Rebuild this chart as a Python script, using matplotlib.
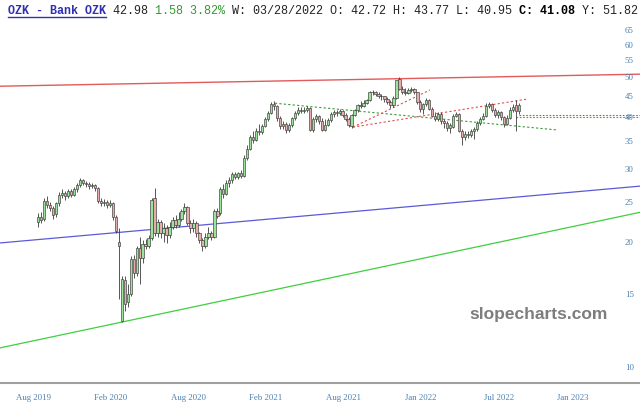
# -*- coding:utf-8 -*-

import matplotlib
matplotlib.use('Agg')
import matplotlib.pyplot as plt
from matplotlib.lines import Line2D
from matplotlib.ticker import FixedLocator, NullLocator, FixedFormatter

# weekly OHLC, Bank OZK, one row of 10 weeks per line
opens = [22.3, 23.0, 22.8, 25.2, 24.6, 24.2, 23.4, 24.8, 26.0, 26.3,
         25.8, 26.5, 26.0, 26.8, 27.5, 28.2, 27.8, 27.6, 27.3, 27.5,
         27.0, 25.2, 24.8, 25.0, 24.6, 24.9, 23.0, 20.0, 12.9, 16.2,
         14.3, 15.0, 18.2, 16.8, 19.3, 18.3, 19.8, 19.6, 20.4, 25.5,
         21.0, 22.3, 21.0, 21.6, 20.8, 21.8, 22.6, 22.0, 22.8, 23.8,
         24.3, 22.2, 21.6, 22.2, 21.0, 20.2, 19.6, 20.6, 21.0, 20.6,
         23.8, 23.5, 26.8, 26.2, 27.8, 28.2, 29.2, 28.8, 29.3, 28.9,
         32.0, 33.6, 35.8, 35.2, 37.2, 36.8, 38.2, 39.6, 41.0, 43.2,
         42.6, 39.8, 38.2, 38.6, 37.4, 38.4, 39.8, 41.0, 41.8, 41.4,
         41.7, 42.2, 37.3, 39.6, 40.4, 39.2, 37.4, 38.4, 39.4, 40.8,
         41.3, 41.0, 41.5, 40.6, 39.6, 38.2, 40.6, 41.6, 42.8, 42.6,
         43.4, 44.0, 46.0, 46.1, 45.6, 45.2, 45.0, 44.3, 43.5, 42.8,
         44.6, 49.6, 46.8, 46.2, 45.8, 46.6, 46.8, 46.0, 43.6, 42.0,
         43.0, 44.2, 42.0, 40.4, 39.6, 40.8, 39.2, 38.8, 37.8, 38.0,
         40.4, 40.8, 37.2, 35.8, 36.4, 36.2, 37.0, 37.6, 38.8, 39.6,
         40.4, 42.6, 43.2, 41.8, 40.6, 41.2, 40.2, 38.6, 39.8, 41.8,
         42.9, 41.4]
highs = [23.5, 23.6, 25.6, 25.8, 25.0, 24.5, 25.0, 26.4, 26.8, 26.6,
         26.9, 26.8, 27.2, 27.8, 28.5, 28.4, 28.1, 27.9, 27.8, 27.7,
         27.2, 25.6, 25.4, 25.3, 25.3, 25.0, 23.2, 21.6, 16.6, 16.6,
         15.8, 18.5, 18.6, 19.6, 20.6, 20.2, 20.3, 20.8, 25.6, 27.0,
         22.8, 22.6, 22.2, 22.0, 22.3, 23.0, 23.2, 23.6, 24.0, 24.8,
         24.4, 22.6, 22.8, 22.5, 21.2, 20.5, 21.0, 21.8, 21.3, 24.0,
         24.2, 27.2, 27.6, 28.2, 28.8, 29.6, 29.6, 29.6, 29.8, 32.5,
         34.4, 36.2, 37.2, 37.8, 38.5, 38.6, 40.2, 41.4, 43.5, 43.8,
         42.8, 40.3, 39.2, 38.9, 38.8, 40.2, 41.4, 42.3, 42.4, 42.5,
         42.6, 42.3, 40.0, 40.8, 40.6, 39.8, 39.6, 39.8, 41.2, 41.8,
         41.8, 41.9, 41.7, 41.0, 40.0, 40.8, 42.0, 43.2, 43.8, 44.2,
         44.4, 46.4, 46.6, 46.4, 46.0, 45.6, 45.2, 44.8, 44.1, 45.0,
         49.4, 50.2, 47.6, 47.2, 47.0, 47.3, 47.2, 46.2, 44.0, 43.4,
         44.6, 44.4, 42.4, 41.2, 41.2, 41.3, 39.6, 39.2, 38.8, 40.8,
         41.3, 41.0, 37.6, 37.0, 37.2, 37.6, 38.0, 39.3, 40.0, 41.0,
         43.4, 43.6, 43.4, 42.2, 41.6, 41.4, 40.4, 40.6, 42.3, 43.0,
         44.0, 43.4]
lows = [21.8, 22.2, 22.5, 24.2, 23.8, 22.8, 23.0, 24.5, 25.6, 25.3,
        25.5, 25.7, 25.8, 26.4, 27.2, 27.4, 27.2, 26.9, 27.0, 26.6,
        24.9, 24.4, 24.5, 24.2, 24.3, 22.6, 21.0, 14.6, 12.8, 13.6,
        13.9, 14.8, 16.4, 16.6, 15.8, 17.8, 19.2, 19.3, 20.2, 20.7,
        20.6, 20.4, 20.0, 19.9, 20.5, 21.5, 21.6, 21.8, 22.5, 23.4,
        22.0, 21.0, 21.2, 20.6, 19.9, 19.0, 19.3, 20.3, 20.2, 20.4,
        22.9, 23.3, 25.6, 26.0, 27.2, 27.8, 28.4, 28.4, 28.6, 28.7,
        31.5, 33.3, 34.8, 35.0, 36.3, 36.5, 38.0, 39.2, 40.8, 41.8,
        39.2, 37.5, 37.6, 36.6, 36.9, 38.0, 39.5, 40.6, 41.0, 40.9,
        41.2, 37.0, 36.9, 39.0, 38.6, 37.0, 37.0, 38.1, 39.0, 40.2,
        40.4, 40.6, 40.0, 39.2, 38.0, 37.8, 40.3, 41.3, 42.2, 42.4,
        43.0, 43.8, 45.4, 45.1, 44.6, 44.2, 43.6, 43.0, 42.2, 42.4,
        44.4, 46.5, 45.6, 45.3, 45.5, 46.0, 45.6, 43.2, 41.2, 40.8,
        42.6, 41.6, 40.0, 39.2, 39.3, 38.6, 37.8, 37.2, 36.6, 37.8,
        40.0, 36.8, 34.4, 35.2, 35.6, 35.8, 35.4, 37.2, 38.4, 39.4,
        40.2, 42.2, 41.2, 40.0, 39.8, 39.4, 38.0, 38.4, 39.6, 41.2,
        37.2, 40.8]
closes = [23.0, 22.6, 25.2, 24.6, 24.2, 23.2, 24.8, 26.0, 26.3, 25.8,
          26.5, 26.0, 26.8, 27.5, 28.2, 27.8, 27.6, 27.3, 27.5, 27.0,
          25.2, 24.8, 25.0, 24.6, 24.9, 23.0, 21.3, 19.6, 16.3, 14.2,
          15.0, 18.2, 16.8, 19.3, 18.3, 19.8, 19.6, 20.4, 25.3, 21.0,
          22.3, 21.0, 21.6, 20.8, 21.8, 22.6, 22.0, 22.8, 23.8, 24.3,
          22.2, 21.6, 22.2, 21.0, 20.2, 19.6, 20.6, 21.0, 20.6, 23.8,
          23.1, 26.8, 26.2, 27.8, 28.2, 29.2, 28.8, 29.3, 28.9, 32.0,
          33.6, 35.8, 35.2, 37.2, 36.8, 38.2, 39.6, 41.0, 43.2, 42.6,
          39.8, 38.2, 38.6, 37.4, 38.4, 39.8, 41.0, 41.8, 41.4, 41.7,
          42.2, 37.3, 39.6, 40.4, 39.2, 37.4, 38.4, 39.4, 40.8, 41.3,
          41.0, 41.5, 40.6, 39.6, 38.4, 40.6, 41.6, 42.8, 42.6, 43.4,
          44.0, 46.0, 46.1, 45.6, 45.2, 45.0, 44.3, 43.5, 42.8, 44.6,
          49.2, 46.8, 46.2, 45.8, 46.6, 46.8, 46.0, 43.6, 42.0, 43.0,
          44.2, 42.0, 40.4, 39.6, 40.8, 39.2, 38.8, 37.8, 38.4, 40.4,
          40.8, 37.2, 35.8, 36.4, 36.2, 37.0, 37.6, 38.8, 39.6, 40.4,
          42.6, 43.2, 41.8, 40.6, 41.2, 40.2, 38.6, 39.8, 41.8, 42.4,
          41.4, 42.98]

# x axis labels (week index where they sit)
tick_weeks = [-1.5, 24.3, 50.5, 76.1, 102.2, 128.2, 154.3, 179.1]
tick_labels = ['Aug 2019', 'Feb 2020', 'Aug 2020', 'Feb 2021',
               'Aug 2021', 'Jan 2022', 'Jul 2022', 'Jan 2023']
price_ticks = [10, 15, 20, 25, 30, 35, 40, 45, 50, 55, 60, 65]

# drawn trend lines: (week, price) end points
red_line = [(-12.8, 47.6), (201.6, 50.9)]
blue_line = [(-12.8, 19.9), (201.6, 27.3)]
green_line = [(-12.8, 11.1), (201.6, 23.6)]
green_dotted = [(79.3, 43.3), (174.1, 37.3)]
red_dotted_1 = [(105.4, 37.9), (131.2, 46.6)]
red_dotted_2 = [(105.4, 37.9), (163.7, 44.3)]
green_level = [(161.0, 40.5), (201.6, 40.5)]
red_level = [(160.0, 40.0), (201.6, 40.0)]

# title pieces
title_parts = [('OZK - Bank OZK', '#3030b0', 'bold'),
               (' 42.98', '#222222', 'normal'),
               (' 1.58 3.82%', '#2f9a2f', 'normal'),
               (' W: 03/28/2022 O: 42.72 H: 43.77 L: 40.95', '#222222', 'normal'),
               (' C: 41.08', 'black', 'bold'),
               (' Y: 51.82', '#222222', 'normal')]

W, H = 640, 413
fig = plt.figure(figsize=(W / 100, H / 100), dpi=100)
ax = fig.add_axes([0, 30 / H, 1, 363 / H])

weeks = list(range(len(closes)))
up = [c >= o for o, c in zip(opens, closes)]
body_lo = [min(o, c) for o, c in zip(opens, closes)]
body_h = [max(abs(c - o), 0.08) for o, c in zip(opens, closes)]
colors = ['#9be39b' if u else '#e6adad' for u in up]

ax.vlines(weeks, lows, highs, color='#3a3a3a', linewidth=0.6, zorder=2)
ax.bar(weeks, body_h, bottom=body_lo, width=0.8, color=colors,
       edgecolor='#3a3a3a', linewidth=0.45, zorder=3)


def seg(pts, **kw):
    ax.plot([p[0] for p in pts], [p[1] for p in pts], **kw)


seg(red_line, color='#e35a5a', lw=1.0, zorder=1)
seg(blue_line, color='#5a5ad8', lw=0.9, zorder=1)
seg(green_line, color='#3fcf3f', lw=0.9, zorder=1)
seg(green_dotted, color='#3a9a3a', lw=0.8, ls=(0, (2, 2)), zorder=1)
seg(red_dotted_1, color='#e05050', lw=0.8, ls=(0, (2, 2)), zorder=1)
seg(red_dotted_2, color='#e05050', lw=0.8, ls=(0, (2, 2)), zorder=1)
seg(green_level, color='#3a9a3a', lw=0.8, ls=(0, (1.5, 1.5)), zorder=1)
seg(red_level, color='#e05050', lw=0.8, ls=(0, (1.5, 1.5)), zorder=1)

ax.set_yscale('log')
ax.set_ylim(9.13, 68.8)
ax.set_xlim(-12.8, 201.6)

tick_col = '#4a7fb0'
ax.yaxis.set_major_locator(FixedLocator(price_ticks))
ax.yaxis.set_major_formatter(FixedFormatter([str(t) for t in price_ticks]))
ax.yaxis.set_minor_locator(NullLocator())
ax.yaxis.tick_right()
ax.tick_params(axis='y', length=0, pad=-11, labelsize=6.3,
               labelcolor=tick_col, labelfontfamily='Liberation Serif')
for lab in ax.get_yticklabels():
    lab.set_horizontalalignment('left')

ax.set_xticks(tick_weeks)
ax.set_xticklabels(tick_labels)
ax.tick_params(axis='x', length=0, pad=8, labelsize=6.3,
               labelcolor=tick_col, labelfontfamily='Liberation Serif')

for s in ['top', 'left', 'right']:
    ax.spines[s].set_visible(False)
ax.spines['bottom'].set_color('#a0a0a0')
ax.spines['bottom'].set_linewidth(1.5)

# watermark
ax.text(0.734, 0.19, 'slopecharts.com', transform=ax.transAxes,
        fontsize=12.5, fontweight='bold', color='#7d7d7d',
        family='Liberation Sans', va='center', ha='left')

# title line: monospace, so place pieces by character count
fig.canvas.draw()
rend = fig.canvas.get_renderer()
probe = fig.text(0, 0, '0' * 20, family='Liberation Mono', fontsize=8.5)
cw = probe.get_window_extent(rend).width / 20
probe.remove()

x0, yc = 8, H - 11
n = 0
for txt, col, wt in title_parts:
    fig.text((x0 + n * cw) / W, yc / H, txt, family='Liberation Mono',
             fontsize=8.5, color=col, fontweight=wt, va='center', ha='left')
    n += len(txt)
ul = len(title_parts[0][0]) * cw
fig.add_artist(Line2D([x0 / W, (x0 + ul) / W], [(H - 17) / H] * 2,
                      color='#3030b0', lw=1.0))

fig.savefig('out.png', dpi=100)
